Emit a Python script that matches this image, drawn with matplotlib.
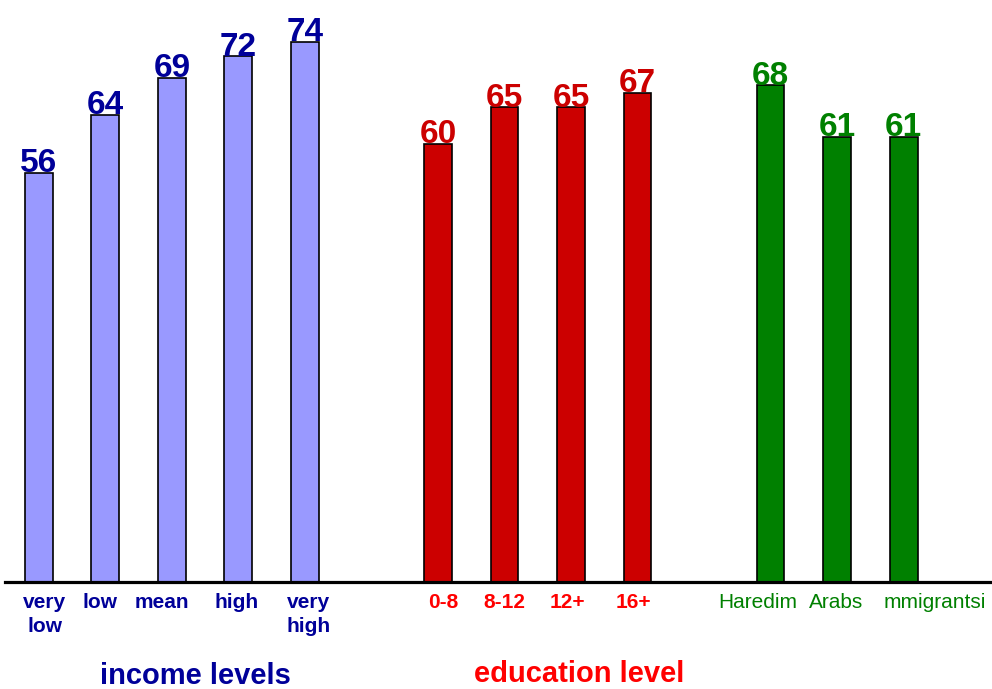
import matplotlib.pyplot as plt
import matplotlib.transforms as mtransforms

plt.rcParams["font.family"] = ["Liberation Sans", "DejaVu Sans"]

# 数据
income_labels = ["very\nlow", "low", "mean", "high", "very\nhigh"]
income_values = [56, 64, 69, 72, 74]
edu_labels = ["0-8", "8-12", "12+", "16+"]
edu_values = [60, 65, 65, 67]
group_labels = ["Haredim", "Arabs", "mmigrantsi"]
group_values = [68, 61, 61]

# 每组的位置（中间空两格）
income_x = list(range(len(income_values)))
edu_x = [i + 6 for i in range(len(edu_values))]
group_x = [i + 11 for i in range(len(group_values))]

# 颜色
blue_bar, blue_txt = "#9999FF", "#000099"
red_bar, red_txt, red_tick = "#CC0000", "#CC0000", "#FF0000"
green = "#008000"

fig = plt.figure(figsize=(9.92, 6.89), dpi=100)
ax = fig.add_axes([5 / 992, 107 / 689, 987 / 992, 582 / 689])

width = 0.42
sets = [
    (income_x, income_values, blue_bar, blue_txt),
    (edu_x, edu_values, red_bar, red_txt),
    (group_x, group_values, green, green),
]
for xs, vals, bc, tc in sets:
    ax.bar(xs, vals, width=width, color=bc, edgecolor="black", linewidth=1.2, zorder=2)
    for x, v in zip(xs, vals):
        ax.annotate(str(v), (x, v), xytext=(0, 0.5), textcoords="offset points",
                    ha="center", va="baseline", fontsize=24, fontweight="bold", color=tc)

ax.set_xlim(-0.51, 14.33)
ax.set_ylim(0, 79.7)

# 坐标轴只保留底部
for s in ["top", "right", "left"]:
    ax.spines[s].set_visible(False)
ax.spines["bottom"].set_linewidth(2.3)
ax.spines["bottom"].set_zorder(3)
ax.set_yticks([])

ax.set_xticks(income_x + edu_x + group_x)
ax.set_xticklabels(income_labels + edu_labels + group_labels, fontsize=15, linespacing=1.35)
ax.tick_params(axis="x", length=0, pad=8)

# 标签颜色和微调
tick_colors = [blue_txt] * 5 + [red_tick] * 4 + [green] * 3
tick_weights = ["bold"] * 9 + ["normal"] * 3
nudges = [6, -5, -10, -2, 4, 5, 0, -4, -4, -13, -1, 31]
for lab, c, w, dx in zip(ax.get_xticklabels(), tick_colors, tick_weights, nudges):
    lab.set_color(c)
    lab.set_fontweight(w)
    lab.set_transform(lab.get_transform() + mtransforms.ScaledTranslation(dx / 100, 0, fig.dpi_scale_trans))

fig.text(195 / 992, 5 / 689, "income levels", ha="center", va="baseline",
         fontsize=21, fontweight="bold", color=blue_txt)
fig.text(579 / 992, 7 / 689, "education level", ha="center", va="baseline",
         fontsize=21, fontweight="bold", color=red_tick)

plt.savefig("out.png", dpi=100)
plt.close()
